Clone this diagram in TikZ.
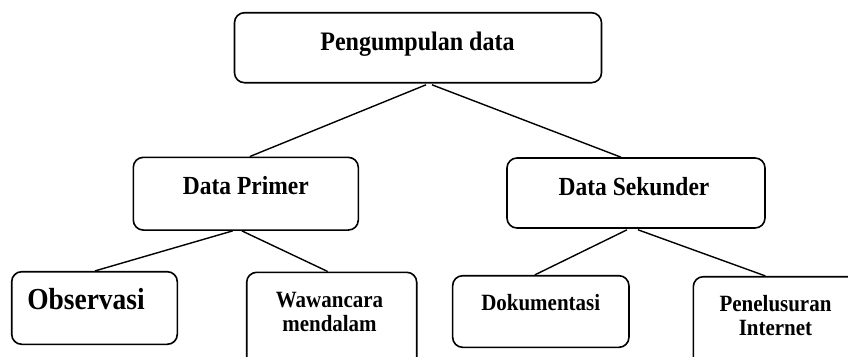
\documentclass[tikz,border=0pt]{standalone}
\usepackage{fontspec}
\setmainfont{Liberation Serif}[FakeStretch=0.9]
\usetikzlibrary{calc}
\begin{document}
\begin{tikzpicture}[x=1pt,y=-1pt,
  box/.style={draw, rounded corners=10pt, line width=1.6pt, inner sep=0pt},
  lbl/.style={inner sep=0pt, anchor=base},
  conn/.style={line width=1.4pt},
  fA/.style={font={\fontsize{26.7}{30}\selectfont\bfseries}},
  fB/.style={font={\fontsize{26.1}{30}\selectfont\bfseries}},
  fC/.style={font={\fontsize{30.5}{34}\selectfont\bfseries}},
  fD/.style={font={\fontsize{23.3}{24}\selectfont\bfseries}}
]
\path[use as bounding box, clip] (0,0) rectangle (848,356);
\fill[white] (0,0) rectangle (848,356);
% boxes
\node[box, minimum width=367pt, minimum height=70pt] (top) at (418,47.7) {};
\node[box, minimum width=225pt, minimum height=72.7pt] (dp) at (245.8,193.7) {};
\node[box, minimum width=258pt, minimum height=70pt] (ds) at (636,193) {};
\node[box, minimum width=165.6pt, minimum height=72.6pt] (ob) at (94.5,308) {};
\node[box, minimum width=170pt, minimum height=108pt] (ww) at (331.7,326.3) {};
\node[box, minimum width=176.3pt, minimum height=71.6pt] (dk) at (540.8,311.5) {};
\node[box, minimum width=180pt, minimum height=108pt] (pi) at (783.3,330.7) {};
% labels
\node[lbl, fA] (topt) at (417.5,50) {Pengumpulan data};
\node[lbl, fB] (dpt) at (245.8,194) {Data Primer};
\node[lbl, fB] (dst) at (634,195.5) {Data Sekunder};
\node[lbl, fC] (obt) at (86,309) {Observasi};
\node[lbl, fD] (wwt) at (329.5,307.5) {\begin{tabular}[t]{@{}c@{}}Wawancara\\mendalam\end{tabular}};
\node[lbl, fD] (dkt) at (540.7,310) {Dokumentasi};
\node[lbl, font={\fontsize{23.3}{23.5}\selectfont\bfseries}] (pit) at (775.5,311.5) {\begin{tabular}[t]{@{}c@{}}Penelusuran\\Internet\end{tabular}};
% connector end points
\coordinate (topL) at ($(top.south)+(8,1.3)$);
\coordinate (topR) at ($(top.south)+(14,1.3)$);
\coordinate (dpN) at ($(dp.north)+(4,0)$);
\coordinate (dsN) at ($(ds.north)+(-15,0)$);
\coordinate (dpL) at ($(dp.south)+(-13,0)$);
\coordinate (dpR) at ($(dp.south)+(-4,0)$);
\coordinate (obN) at ($(ob.north)+(0.5,0)$);
\coordinate (wwN) at ($(ww.north)+(-4,0)$);
\coordinate (dsL) at ($(ds.south)+(-9,1)$);
\coordinate (dsR) at ($(ds.south)+(2,1)$);
\coordinate (dkN) at ($(dk.north)+(-6,0)$);
\coordinate (piN) at ($(pi.north)+(-18,0)$);
% connectors
\draw[conn] (topL) -- (dpN);
\draw[conn] (topR) -- (dsN);
\draw[conn] (dpL) -- (obN);
\draw[conn] (dpR) -- (wwN);
\draw[conn] (dsL) -- (dkN);
\draw[conn] (dsR) -- (piN);
\end{tikzpicture}
\end{document}
